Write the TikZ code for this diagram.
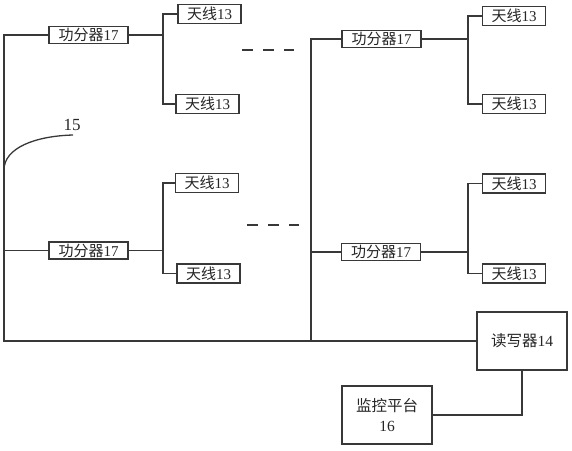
\documentclass[tikz,border=0pt]{standalone}
\usepackage{fontspec}
\setmainfont{Liberation Serif}
\newfontfamily\cjk{Noto Sans CJK SC}
\begin{document}
\begin{tikzpicture}[x=1pt,y=-1pt,
  line width=1.3pt, draw=black!78,
  every node/.style={font=\fontsize{15}{17}\selectfont, text=black!85},
  box/.style={draw=black!78, line width=1.3pt, inner sep=0pt, fill=white},
  splitbox/.style={box, minimum width=79pt, minimum height=17pt},
  antbox/.style={box, minimum width=63pt, minimum height=19pt},
  bigbox/.style={box, minimum width=90pt, minimum height=58pt, align=center, font=\fontsize{15.5}{18}\selectfont},
  wire/.style={draw=black!78, line width=1.3pt},
  dashline/.style={draw=black!78, line width=1.3pt, dash pattern=on 11pt off 10pt}]
\useasboundingbox (0,0) rectangle (572,450);

% splitters
\node[splitbox] (s1) at (88.5,35) {{\cjk 功分器}17};
\node[splitbox] (s2) at (88.5,250.5) {{\cjk 功分器}17};
\node[splitbox] (s3) at (381.5,39) {{\cjk 功分器}17};
\node[splitbox] (s4) at (381,252) {{\cjk 功分器}17};

% antennas
\node[antbox] (a1) at (209.5,14) {{\cjk 天线}13};
\node[antbox] (a2) at (207.5,104) {{\cjk 天线}13};
\node[antbox] (a3) at (207,183) {{\cjk 天线}13};
\node[antbox] (a4) at (208.5,273.5) {{\cjk 天线}13};
\node[antbox] (a5) at (514,16) {{\cjk 天线}13};
\node[antbox] (a6) at (514,104) {{\cjk 天线}13};
\node[antbox] (a7) at (514,183.5) {{\cjk 天线}13};
\node[antbox] (a8) at (514,273.5) {{\cjk 天线}13};

% reader and monitor
\node[bigbox] (r) at (522,341) {{\cjk 读写器}14};
\node[bigbox] (m) at (387,415) {{\cjk 监控平台}\\[2pt]16};

% label 15
\node[font=\fontsize{17}{19}\selectfont] (lab) at (72,125) {15};

% coordinates
\coordinate (lt) at (4,35);
\coordinate (lb) at (4,341);
\coordinate (rt) at (311,39);
\coordinate (j1) at (163,35);
\coordinate (j2) at (163,250.5);
\coordinate (j3) at (468,39);
\coordinate (j4) at (468,252);

% buses
\draw[wire] (s1.west) -- (lt) -- (lb) -- (r.west);
\draw[wire] (s2.west) -- (s2.west -| lt);
\draw[wire] (s3.west) -- (rt) -- (rt |- r.west);
\draw[wire] (s4.west) -- (s4.west -| rt);

% splitter to antennas
\draw[wire] (s1.east) -- (j1);
\draw[wire] (a1.west) -| (j1) |- (a2.west);
\draw[wire] (s2.east) -- (j2);
\draw[wire] (a3.west) -| (j2) |- (a4.west);
\draw[wire] (s3.east) -- (j3);
\draw[wire] (a5.west) -| (j3) |- (a6.west);
\draw[wire] (s4.east) -- (j4);
\draw[wire] (a7.west) -| (j4) |- (a8.west);

% reader to monitor
\draw[wire] (r.south) |- (m.east);

% curve 15
\coordinate (c0) at (4,170);
\coordinate (c1) at (73,135);
\draw[wire] (c0) .. controls (4,148) and (35,136) .. (c1);

% dashes
\coordinate (d1a) at (242,50);
\coordinate (d1b) at (294,50);
\coordinate (d2a) at (247,225);
\coordinate (d2b) at (299,225);
\draw[dashline] (d1a) -- (d1b);
\draw[dashline] (d2a) -- (d2b);
\end{tikzpicture}
\end{document}
